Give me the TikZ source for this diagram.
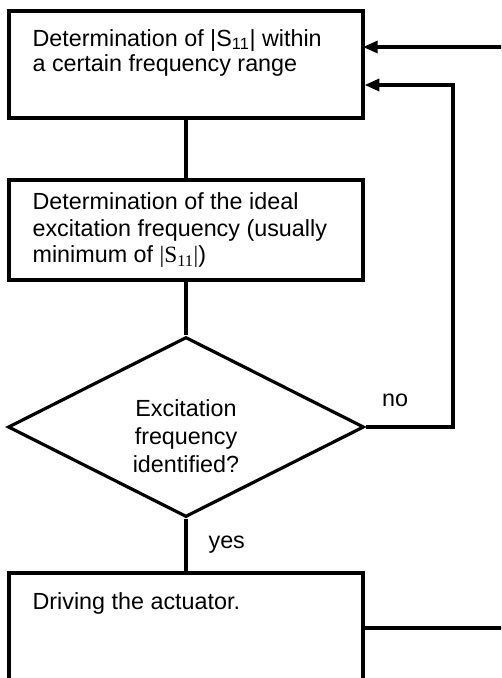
\documentclass[tikz,border=0pt]{standalone}
\usepackage{fontspec}
\setmainfont{Liberation Sans}
\newfontfamily\timesfont{Liberation Serif}
\usetikzlibrary{shapes.geometric,arrows.meta}
\begin{document}
\begin{tikzpicture}
	[
	x=0.75pt, y=-0.75pt,
	line width=2.4pt,
	every node/.style={font=\fontsize{17.5pt}{20pt}\selectfont},
	stepbox/.style={draw=black, rectangle, minimum width=265.5pt, inner sep=0pt},
	decision/.style={draw=black, diamond, aspect=2, minimum width=267pt, minimum height=135pt, inner sep=0pt},
	txt/.style={anchor=north west, inner sep=0pt, align=left},
	back/.style={-{Triangle[length=11pt,width=9pt]}}
	]
		\useasboundingbox (0,0) rectangle (501,678);
		\clip (0,0) rectangle (501,678);
		
		% steps
		\node[stepbox, minimum height=80.25pt] (det) at (186,64.5) {};
		\node[stepbox, minimum height=75pt] (ideal) at (186,230) {};
		\node[decision] (check) at (186,427) {};
		\node[stepbox, minimum height=105pt] (drive) at (186,643) {};
		
		% texts
		\node[txt, font=\fontsize{17.5pt}{19pt}\selectfont] (dettxt) at (31,28) {Determination of |S\textsubscript{11}| within\\a certain frequency range};
		\node[txt] (idealtxt) at (31,191) {Determination of the ideal\\excitation frequency (usually\\minimum of {\timesfont |S\textsubscript{11}|})};
		\node[align=center, inner sep=0pt, font=\fontsize{17.5pt}{21pt}\selectfont] (checktxt) at (186,436) {Excitation\\frequency\\identified?};
		\node[txt] (drivetxt) at (31,591) {Driving the actuator.};
		\node (nolbl) at (395,400) {no};
		
		% loop points
		\coordinate (noup) at (453,85);
		\coordinate (outr) at (530,628);
		\coordinate (in1) at (363,47);
		
		% drawing code
		\draw (det) -- (ideal);
		\draw (ideal) -- (check);
		\draw (check) -- node[midway, anchor=west, inner sep=0pt, xshift=15.75pt] (yeslbl) {yes} (drive);
		\draw [back] (check.east) -| (noup) -- (det.east |- noup);
		\draw [back] (drive.east |- outr) -- (outr) |- (in1);
	\end{tikzpicture}
\end{document}
